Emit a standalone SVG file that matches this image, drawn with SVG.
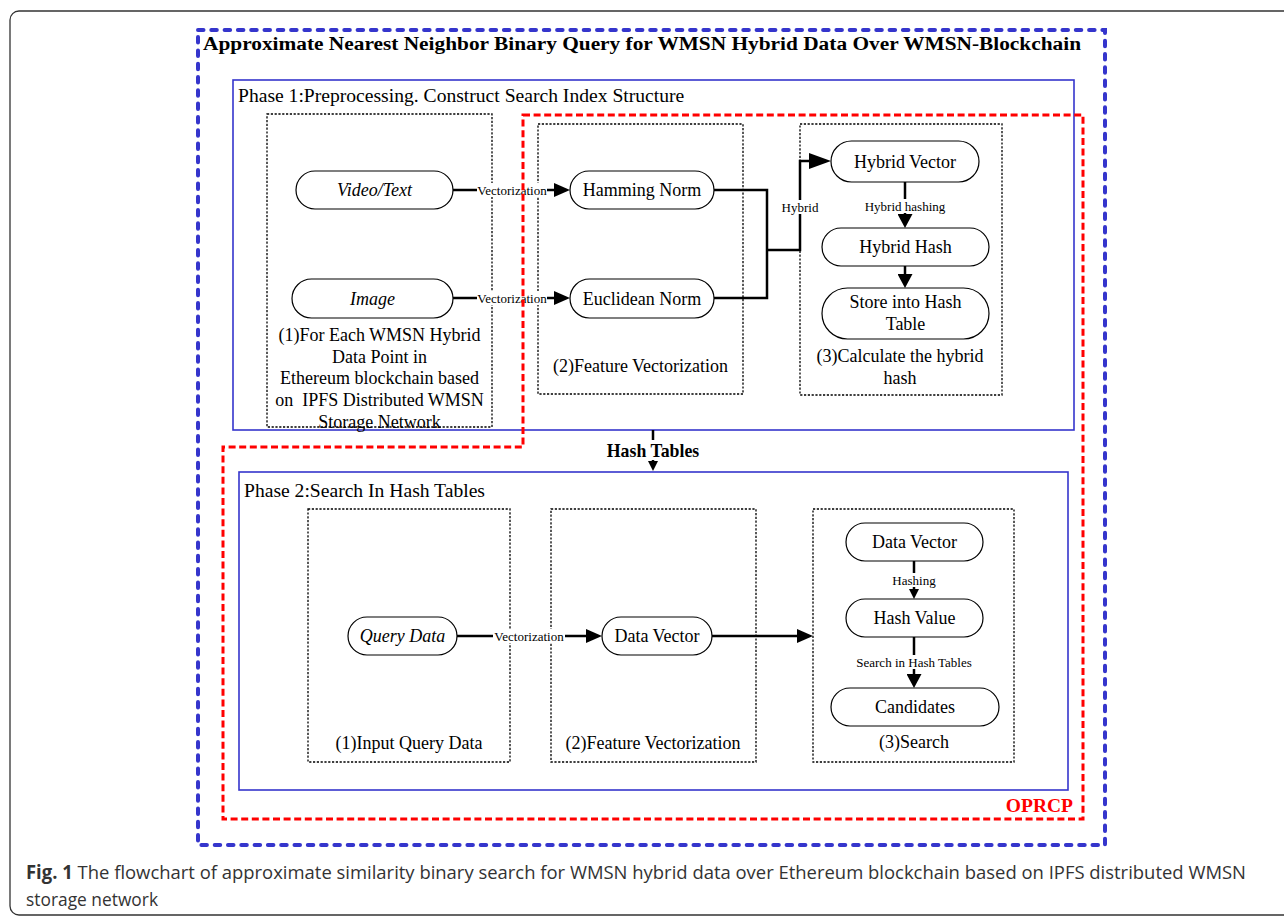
<svg xmlns="http://www.w3.org/2000/svg" width="1284" height="917" viewBox="0 0 1284 917">
<defs>
<style>
.t{font-family:"Liberation Serif","Times New Roman",serif;fill:#000}
.b{font-size:18px}
.lb{font-size:13px}
.pill{fill:#fff;stroke:#000;stroke-width:1.2}
.dot{fill:none;stroke:#000;stroke-width:1.3;stroke-dasharray:2.2 1.6}
.phase{fill:none;stroke:#3535cc;stroke-width:1.6}
.ln{fill:none;stroke:#000;stroke-width:2.5}
.bg{fill:#fff}
.cap{font-family:"Open Sans","Noto Sans","Liberation Sans",sans-serif;fill:#333;font-size:19px}
</style>
<marker id="ab" markerUnits="userSpaceOnUse" markerWidth="16" markerHeight="14" refX="11" refY="7" orient="auto"><path d="M0,0 L16,7 L0,14 z" fill="#000"/></marker>
<marker id="abx" markerUnits="userSpaceOnUse" markerWidth="22" markerHeight="16" refX="17" refY="8" orient="auto"><path d="M0,0 L22,8 L0,16 z" fill="#000"/></marker>
<marker id="am" markerUnits="userSpaceOnUse" markerWidth="14" markerHeight="15" refX="9" refY="7.5" orient="auto"><path d="M0,0 L14,7.5 L0,15 z" fill="#000"/></marker>
<marker id="as" markerUnits="userSpaceOnUse" markerWidth="10" markerHeight="10" refX="6" refY="5" orient="auto"><path d="M0,0 L10,5 L0,10 z" fill="#000"/></marker>
</defs>
<rect width="1284" height="917" fill="#fff"/>
<rect x="10" y="11" width="1330" height="904" rx="9" fill="none" stroke="#333" stroke-width="1.3"/>

<g id="frame-blockchain">
<rect x="198" y="30" width="907" height="815" fill="none" stroke="#3535cc" stroke-width="4" stroke-linecap="round" stroke-dasharray="5.5 7.8"/>
<text class="t" x="203" y="50" font-size="18" font-weight="bold" textLength="878" lengthAdjust="spacingAndGlyphs">Approximate Nearest Neighbor Binary Query for WMSN Hybrid Data Over WMSN-Blockchain</text>
</g>

<g id="phase1">
<rect class="phase" x="233" y="80" width="841" height="350"/>
<text class="t" x="238" y="102" font-size="19.6">Phase 1:Preprocessing. Construct Search Index Structure</text>
</g>
<g id="phase2">
<rect class="phase" x="239" y="472" width="829" height="318"/>
<text class="t" x="244" y="497" font-size="19.6">Phase 2:Search In Hash Tables</text>
</g>

<g id="p1-box1">
<rect class="dot" x="267" y="114" width="225" height="313"/>
<g class="t b" text-anchor="middle">
<text x="379.5" y="341">(1)For Each WMSN Hybrid</text>
<text x="379.5" y="363">Data Point in</text>
<text x="379.5" y="384">Ethereum blockchain based</text>
<text x="379.5" y="406" xml:space="preserve">on  IPFS Distributed WMSN</text>
<text x="379.5" y="428">Storage Network</text>
</g>
</g>
<g id="p1-box2">
<rect class="dot" x="538" y="124" width="205" height="270"/>
<text class="t b" x="640.5" y="372" text-anchor="middle">(2)Feature Vectorization</text>
</g>
<g id="p1-box3">
<rect class="dot" x="800" y="124" width="202" height="271"/>
<g class="t b" text-anchor="middle">
<text x="900" y="362">(3)Calculate the hybrid</text>
<text x="900" y="384">hash</text>
</g>
</g>
<g id="p2-box1">
<rect class="dot" x="308" y="509" width="202" height="253"/>
<text class="t b" x="409" y="749" text-anchor="middle">(1)Input Query Data</text>
</g>
<g id="p2-box2">
<rect class="dot" x="551" y="509" width="205" height="253"/>
<text class="t b" x="653" y="749" text-anchor="middle">(2)Feature Vectorization</text>
</g>
<g id="p2-box3">
<rect class="dot" x="813" y="509" width="201" height="253"/>
<text class="t b" x="914" y="748" text-anchor="middle">(3)Search</text>
</g>

<g id="connectors">
<line class="ln" x1="453" y1="190" x2="565" y2="190" marker-end="url(#ab)"/>
<line class="ln" x1="453" y1="298" x2="565" y2="298" marker-end="url(#ab)"/>
<polyline class="ln" points="714,190 767,190 767,298 714,298"/>
<polyline class="ln" points="767,250 800,250 800,161 826,161" marker-end="url(#abx)"/>
<line class="ln" x1="905" y1="182" x2="905" y2="223" marker-end="url(#am)"/>
<line class="ln" x1="905" y1="266" x2="905" y2="283" marker-end="url(#am)"/>
<line class="ln" x1="653" y1="430" x2="653" y2="467" stroke-width="2" marker-end="url(#as)"/>
<line class="ln" x1="457" y1="636" x2="597" y2="636" marker-end="url(#ab)"/>
<line class="ln" x1="712" y1="636" x2="808" y2="636" marker-end="url(#ab)"/>
<line class="ln" x1="914" y1="561" x2="914" y2="595" stroke-width="2.2" marker-end="url(#as)"/>
<line class="ln" x1="914" y1="637" x2="914" y2="683" marker-end="url(#am)"/>
<g class="t lb" text-anchor="middle">
<rect class="bg" x="477" y="183" width="70" height="14"/>
<text x="512" y="194.5">Vectorization</text>
<rect class="bg" x="477" y="291" width="70" height="14"/>
<text x="512" y="302.5">Vectorization</text>
<rect class="bg" x="782" y="200" width="37" height="14"/>
<text x="800" y="211.5">Hybrid</text>
<rect class="bg" x="863" y="199" width="84" height="14"/>
<text x="905" y="210.5">Hybrid hashing</text>
<rect class="bg" x="493" y="629" width="72" height="14"/>
<text x="529" y="640.5">Vectorization</text>
<rect class="bg" x="891" y="573" width="46" height="14"/>
<text x="914" y="584.5">Hashing</text>
<rect class="bg" x="854" y="655" width="121" height="14"/>
<text x="914" y="666.5">Search in Hash Tables</text>
<rect class="bg" x="605" y="440" width="96" height="20"/>
<text x="653" y="457" font-size="17.8" font-weight="bold">Hash Tables</text>
</g>
</g>

<g id="n-video">
<rect class="pill" x="296" y="171" width="157" height="38" rx="19"/>
<text class="t b" x="374.5" y="196" text-anchor="middle" font-style="italic">Video/Text</text>
</g>
<g id="n-image">
<rect class="pill" x="292" y="279" width="161" height="39" rx="19.5"/>
<text class="t b" x="372.5" y="304.5" text-anchor="middle" font-style="italic">Image</text>
</g>
<g id="n-hamming">
<rect class="pill" x="570" y="171" width="144" height="38" rx="19"/>
<text class="t b" x="642" y="196" text-anchor="middle">Hamming Norm</text>
</g>
<g id="n-euclid">
<rect class="pill" x="570" y="279" width="144" height="39" rx="19.5"/>
<text class="t b" x="642" y="304.5" text-anchor="middle">Euclidean Norm</text>
</g>
<g id="n-hybvec">
<rect class="pill" x="831" y="141" width="148" height="41" rx="20.5"/>
<text class="t b" x="905" y="167.5" text-anchor="middle">Hybrid Vector</text>
</g>
<g id="n-hybhash">
<rect class="pill" x="822" y="228" width="167" height="38" rx="19"/>
<text class="t b" x="905.5" y="253" text-anchor="middle">Hybrid Hash</text>
</g>
<g id="n-store">
<rect class="pill" x="822" y="288" width="167" height="51" rx="25.5"/>
<text class="t b" x="905.5" y="308" text-anchor="middle">Store into Hash</text>
<text class="t b" x="905.5" y="330" text-anchor="middle">Table</text>
</g>
<g id="n-query">
<rect class="pill" x="348" y="617" width="109" height="38" rx="19"/>
<text class="t b" x="402.5" y="642" text-anchor="middle" font-style="italic">Query Data</text>
</g>
<g id="n-datavec1">
<rect class="pill" x="602" y="617" width="110" height="38" rx="19"/>
<text class="t b" x="657" y="642" text-anchor="middle">Data Vector</text>
</g>
<g id="n-datavec2">
<rect class="pill" x="846" y="523" width="137" height="38" rx="19"/>
<text class="t b" x="914.5" y="548" text-anchor="middle">Data Vector</text>
</g>
<g id="n-hashval">
<rect class="pill" x="846" y="599" width="137" height="38" rx="19"/>
<text class="t b" x="914.5" y="624" text-anchor="middle">Hash Value</text>
</g>
<g id="n-cand">
<rect class="pill" x="831" y="688" width="168" height="38" rx="19"/>
<text class="t b" x="915" y="713" text-anchor="middle">Candidates</text>
</g>

<g id="oprcp">
<polygon points="523,115 1083,115 1083,819 223,819 223,447 523,447" fill="none" stroke="#ff0000" stroke-width="3" stroke-dasharray="7 3.6"/>
<text x="1073" y="812" text-anchor="end" font-family="Liberation Serif,serif" font-weight="bold" font-size="19.5" fill="#ff0000">OPRCP</text>
</g>

<g id="caption">
<text class="cap" x="26" y="879" textLength="1220" lengthAdjust="spacingAndGlyphs"><tspan font-weight="bold">Fig. 1</tspan> The flowchart of approximate similarity binary search for WMSN hybrid data over Ethereum blockchain based on IPFS distributed WMSN</text>
<text class="cap" x="26" y="906" textLength="132" lengthAdjust="spacingAndGlyphs">storage network</text>
</g>
</svg>
